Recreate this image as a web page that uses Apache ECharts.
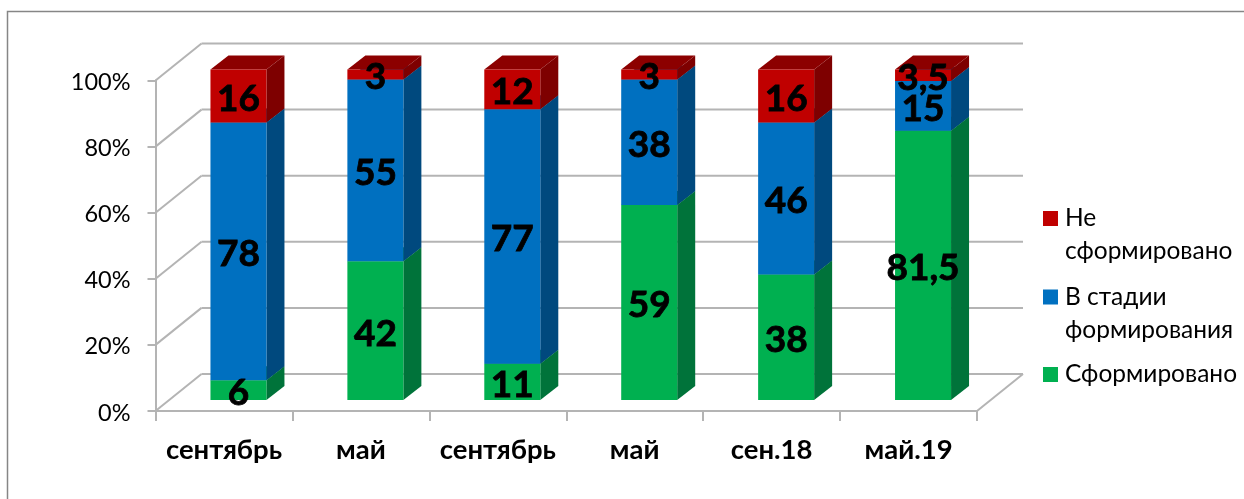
<!DOCTYPE html>
<html>
<head>
<meta charset="utf-8">
<style>html,body{margin:0;padding:0;background:#fff}#main{width:1244px;height:499px}</style>
<script src="https://cdn.jsdelivr.net/npm/echarts@6/dist/echarts.min.js"></script>
</head>
<body>
<div id="main"></div>
<script>
var categories = ['сентябрь', 'май', 'сентябрь', 'май', 'сен.18', 'май.19'];
var formed = [6, 42, 11, 59, 38, 81.5];
var forming = [78, 55, 77, 38, 46, 15];
var notFormed = [16, 3, 12, 3, 16, 3.5];
var yTicks = [0, 20, 40, 60, 80, 100];

var fontName = 'Lato';
var chart = echarts.init(document.getElementById('main'));

// depth of the fake 3d box, px
var wallDx = 46, wallDy = -37;
var barDx = 18, barDy = -14;
var barOffX = 14.5, barOffY = -11;
var barW = 56;

function poly(pts, color) {
    return {type: 'polygon', shape: {points: pts}, style: {fill: color}};
}

function barItem(front, side, top) {
    return function (params, api) {
        var c = api.coord([api.value(0), api.value(1)]);
        var d = api.coord([api.value(0), api.value(2)]);
        var x0 = c[0] + barOffX - barW / 2, x1 = x0 + barW;
        var y0 = c[1] + barOffY, y1 = d[1] + barOffY;
        return {
            type: 'group',
            children: [
                poly([[x1, y0], [x1 + barDx, y0 + barDy], [x1 + barDx, y1 + barDy], [x1, y1]], side),
                poly([[x0, y1], [x1, y1], [x1 + barDx, y1 + barDy], [x0 + barDx, y1 + barDy]], top),
                poly([[x0, y0], [x1, y0], [x1, y1], [x0, y1]], front)
            ]
        };
    };
}

function labelItem(params, api) {
    var c = api.coord([api.value(0), (api.value(1) + api.value(2)) / 2]);
    var val = api.value(2) - api.value(1);
    return {
        type: 'text',
        x: c[0] + barOffX,
        y: c[1] + barOffY + 3,
        style: {
            text: String(Math.round(val * 10) / 10).replace('.', ','),
            fill: '#000',
            stroke: '#000',
            lineWidth: 0.8,
            font: 'bold 37px ' + fontName,
            align: 'center',
            verticalAlign: 'middle'
        }
    };
}

function wallItem(params, api) {
    var cs = params.coordSys;
    var y = api.coord([0, api.value(0)])[1];
    var kids = [
        {type: 'line', shape: {x1: cs.x, y1: y, x2: cs.x + wallDx, y2: y + wallDy}, style: {stroke: '#b4b4b4', lineWidth: 2}},
        {type: 'line', shape: {x1: cs.x + wallDx, y1: y + wallDy, x2: cs.x + cs.width + wallDx, y2: y + wallDy}, style: {stroke: '#b4b4b4', lineWidth: 2}}
    ];
    if (api.value(0) === 0) {
        kids.push({type: 'line', shape: {x1: cs.x + cs.width, y1: y, x2: cs.x + cs.width + wallDx, y2: y + wallDy}, style: {stroke: '#b4b4b4', lineWidth: 2}});
    }
    return {type: 'group', children: kids};
}

function stackRows(vals, below) {
    return vals.map(function (v, i) {
        var base = 0;
        below.forEach(function (b) { base += b[i]; });
        return [i, base, base + v];
    });
}

var rowsGreen = stackRows(formed, []);
var rowsBlue = stackRows(forming, [formed]);
var rowsRed = stackRows(notFormed, [formed, forming]);

function barSeries(name, rows, front, side, top) {
    return {
        name: name,
        type: 'custom',
        silent: true,
        z: 3,
        itemStyle: {color: front},
        renderItem: barItem(front, side, top),
        encode: {x: 0, y: [1, 2]},
        data: rows
    };
}

function labelSeries(rows) {
    return {
        type: 'custom',
        silent: true,
        z: 5,
        renderItem: labelItem,
        encode: {x: 0, y: [1, 2]},
        data: rows
    };
}

var legendFont = {fontFamily: fontName, fontSize: 24.5, color: '#000', lineHeight: 33};

chart.setOption({
    animation: false,
    textStyle: {fontFamily: fontName},
    graphic: [{
        type: 'rect',
        shape: {x: 7.5, y: 11.5, width: 1400, height: 900},
        style: {fill: 'none', stroke: '#868686', lineWidth: 1.5},
        silent: true
    }],
    legend: [
        {
            left: 1038, top: 197, orient: 'vertical', selectedMode: false, itemGap: 0,
            itemWidth: 17, itemHeight: 48,
            data: [{name: 'Не\nсформировано', icon: 'path://M0 0H15V15H0Z M17 48L17.01 48'}],
            textStyle: legendFont
        },
        {
            left: 1038, top: 275.5, orient: 'vertical', selectedMode: false, itemGap: 0,
            itemWidth: 17, itemHeight: 48,
            data: [{name: 'В стадии\nформирования', icon: 'path://M0 0H15V15H0Z M17 48L17.01 48'}],
            textStyle: legendFont
        },
        {
            left: 1038, top: 353, orient: 'vertical', selectedMode: false, itemGap: 0,
            itemWidth: 17, itemHeight: 15,
            data: [{name: 'Сформировано', icon: 'path://M0 0H15V15H0Z M17 15L17.01 15'}],
            textStyle: legendFont
        }
    ],
    grid: {left: 155.5, top: 80.5, width: 821.5, height: 330.5, containLabel: false},
    xAxis: {
        type: 'category',
        data: categories,
        axisLine: {lineStyle: {color: '#b4b4b4', width: 2}},
        axisTick: {show: true, alignWithLabel: false, length: 10, lineStyle: {color: '#b4b4b4', width: 2}},
        axisLabel: {color: '#000', fontWeight: 'bold', fontSize: 27.5, margin: 25, fontFamily: fontName, interval: 0},
        splitLine: {show: false}
    },
    yAxis: {
        type: 'value',
        min: yTicks[0],
        max: yTicks[yTicks.length - 1],
        interval: 20,
        axisLine: {show: true, lineStyle: {color: '#b4b4b4', width: 2}},
        axisTick: {show: true, length: 8, lineStyle: {color: '#b4b4b4', width: 2}},
        axisLabel: {color: '#000', fontSize: 23.5, margin: 25, verticalAlign: 'top', lineHeight: 4, fontFamily: fontName, formatter: '{value}%'},
        splitLine: {show: false}
    },
    series: [
        {type: 'custom', silent: true, z: 1, renderItem: wallItem, encode: {y: 0}, data: yTicks.map(function (t) { return [t]; })},
        barSeries('Сформировано', rowsGreen, '#00b050', '#00733a', '#007d3a'),
        barSeries('В стадии\nформирования', rowsBlue, '#0070c0', '#00497e', '#004c85'),
        barSeries('Не\nсформировано', rowsRed, '#c00000', '#7e0000', '#8c0000'),
        labelSeries(rowsGreen),
        labelSeries(rowsBlue),
        labelSeries(rowsRed)
    ]
});
</script>
</body>
</html>
